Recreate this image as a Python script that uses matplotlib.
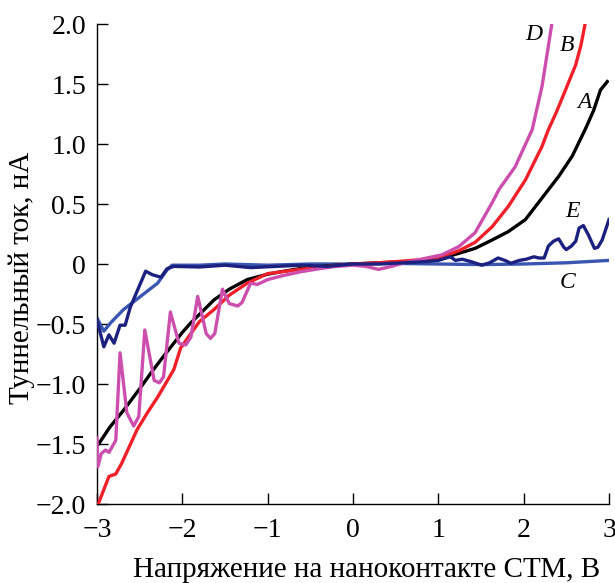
import matplotlib
matplotlib.use("Agg")
import matplotlib.pyplot as plt

plt.rcParams['font.family'] = ['Liberation Serif', 'DejaVu Serif']
plt.rcParams['mathtext.fontset'] = 'stix'

# Curve A (black)
a_x = [-3.0, -2.85, -2.69, -2.5, -2.37, -2.2, -2.1, -2.0, -1.9, -1.8, -1.63, -1.45, -1.24,
       -1.0, -0.84, -0.6, -0.3, 0.0, 0.3, 0.6, 0.9, 1.04, 1.24, 1.43, 1.63, 1.82, 2.02,
       2.215, 2.41, 2.57, 2.72, 2.82, 2.90, 2.98]
a_y = [-1.52, -1.36, -1.22, -1.04, -0.91, -0.75, -0.66, -0.57, -0.49, -0.42, -0.30, -0.21,
       -0.13, -0.085, -0.064, -0.036, -0.015, 0.0, 0.01, 0.02, 0.035, 0.047, 0.089, 0.13,
       0.20, 0.27, 0.37, 0.55, 0.73, 0.90, 1.12, 1.28, 1.45, 1.52]

# Curve B (red)
b_x = [-2.98, -2.92, -2.86, -2.78, -2.71, -2.62, -2.53, -2.41, -2.29, -2.10, -2.02, -1.90,
       -1.80, -1.63, -1.45, -1.24, -1.0, -0.61, -0.3, 0.0, 0.3, 0.6, 0.85, 1.04, 1.24, 1.43,
       1.63, 1.82, 2.02, 2.215, 2.29, 2.38, 2.45, 2.53, 2.61, 2.67, 2.72, 2.74]
b_y = [-1.99, -1.88, -1.77, -1.75, -1.66, -1.52, -1.38, -1.24, -1.11, -0.88, -0.70, -0.58,
       -0.48, -0.38, -0.26, -0.16, -0.08, -0.044, -0.02, 0.0, 0.01, 0.025, 0.04, 0.06, 0.11,
       0.18, 0.31, 0.48, 0.70, 0.98, 1.12, 1.26, 1.38, 1.52, 1.66, 1.82, 2.0, 2.05]

# Curve C (blue)
c_x = [-3.0, -2.92, -2.84, -2.69, -2.49, -2.29, -2.18, -2.12, -1.8, -1.5, -1.0, -0.5, 0.0,
       0.5, 1.0, 1.5, 2.0, 2.5, 3.0]
c_y = [-0.45, -0.56, -0.49, -0.38, -0.27, -0.16, -0.05, -0.01, -0.01, 0.0, -0.01, 0.0, 0.0,
       0.005, 0.0, -0.005, 0.0, 0.01, 0.03]

# Curve D (magenta)
d_x = [-3.0, -2.99, -2.95, -2.90, -2.86, -2.78, -2.73, -2.65, -2.57, -2.51, -2.44, -2.33,
       -2.27, -2.22, -2.14, -2.04, -1.96, -1.90, -1.82, -1.72, -1.67, -1.62, -1.53, -1.45,
       -1.35, -1.30, -1.20, -1.12, -1.0, -0.84, -0.61, -0.4, -0.2, 0.0, 0.15, 0.3, 0.45,
       0.6, 0.8, 1.04, 1.24, 1.43, 1.63, 1.71, 1.90, 2.10, 2.215, 2.33, 2.35]
d_y = [-1.45, -1.69, -1.58, -1.55, -1.57, -1.47, -0.74, -1.24, -1.35, -1.27, -0.55, -0.97,
       -0.99, -0.94, -0.40, -0.66, -0.675, -0.61, -0.27, -0.58, -0.62, -0.58, -0.21, -0.33,
       -0.35, -0.32, -0.16, -0.17, -0.13, -0.10, -0.064, -0.04, -0.02, -0.01, -0.02, -0.045,
       -0.02, 0.01, 0.04, 0.076, 0.145, 0.26, 0.51, 0.62, 0.81, 1.12, 1.48, 2.0, 2.05]

# Curve E (navy)
e_x = [-3.0, -2.97, -2.92, -2.86, -2.80, -2.73, -2.67, -2.61, -2.43, -2.35, -2.25, -2.18,
       -2.10, -1.8, -1.5, -1.2, -0.9, -0.6, -0.3, 0.0, 0.3, 0.6, 0.85, 1.0, 1.14, 1.2, 1.28,
       1.38, 1.51, 1.60, 1.70, 1.78, 1.85, 1.95, 2.03, 2.12, 2.18, 2.24, 2.29, 2.35, 2.41,
       2.47, 2.50, 2.56, 2.61, 2.65, 2.70, 2.76, 2.83, 2.87, 2.92, 3.0]
e_y = [-0.47, -0.55, -0.69, -0.59, -0.66, -0.51, -0.51, -0.36, -0.06, -0.09, -0.11, -0.04,
       -0.02, -0.025, -0.01, -0.03, -0.02, -0.01, -0.02, 0.0, 0.0, 0.01, 0.02, 0.03, 0.06,
       0.03, 0.04, 0.02, -0.01, 0.01, 0.05, 0.03, 0.006, 0.03, 0.04, 0.06, 0.05, 0.05, 0.15,
       0.19, 0.21, 0.14, 0.12, 0.15, 0.19, 0.30, 0.32, 0.24, 0.13, 0.14, 0.20, 0.37]

curve_labels = ['A', 'B', 'C', 'D', 'E']
label_x = [2.71, 2.51, 2.51, 2.12, 2.57]
label_y = [1.35, 1.82, -0.15, 1.91, 0.44]

x_ticks = [-3, -2, -1, 0, 1, 2, 3]
x_tick_labels = ['\u22123', '\u22122', '\u22121', '0', '1', '2', '3']
y_ticks = [-2.0, -1.5, -1.0, -0.5, 0, 0.5, 1.0, 1.5, 2.0]
y_tick_labels = ['\u22122.0', '\u22121.5', '\u22121.0', '\u22120.5', '0', '0.5', '1.0', '1.5', '2.0']

fig = plt.figure(figsize=(6.15, 5.83), dpi=100)
ax = fig.add_axes([97/615, 1 - 504/583, (609 - 97)/615, (504 - 24)/583])

lw = 2.4
ax.plot(c_x, c_y, color='#3a56b0', lw=lw, zorder=2)
ax.plot(a_x, a_y, color='black', lw=lw, zorder=3)
ax.plot(b_x, b_y, color='#f0202a', lw=lw, zorder=3)
ax.plot(d_x, d_y, color='#cc4fae', lw=lw, zorder=4)
ax.plot(e_x, e_y, color='#1c2180', lw=lw, zorder=5)

for lab, lx, ly in zip(curve_labels, label_x, label_y):
    ax.text(lx, ly, lab, fontsize=17, style='italic', ha='center', va='center')

ax.set_xlim(-3, 3)
ax.set_ylim(-2, 2)
ax.set_xticks(x_ticks)
ax.set_xticklabels(x_tick_labels)
ax.set_yticks(y_ticks)
ax.set_yticklabels(y_tick_labels)
ax.tick_params(direction='in', length=8, width=1, labelsize=20)
ax.tick_params(axis='x', pad=10)
ax.tick_params(axis='y', pad=8)
ax.spines['top'].set_visible(False)
ax.spines['right'].set_visible(False)
for s in ('left', 'bottom'):
    ax.spines[s].set_linewidth(1.0)

ax.set_xlabel('Напряжение на наноконтакте СТМ, В', fontsize=21)
ax.set_ylabel('Туннельный ток, нА', fontsize=21)
ax.xaxis.set_label_coords((367 - 97) / 512, -(570 - 504) / 480, transform=ax.transAxes)
ax.xaxis.label.set_va('center')
ax.yaxis.set_label_coords(-(97 - 22) / 512, (504 - 278) / 480, transform=ax.transAxes)
ax.yaxis.label.set_va('center')

fig.savefig('out.png', dpi=100)
